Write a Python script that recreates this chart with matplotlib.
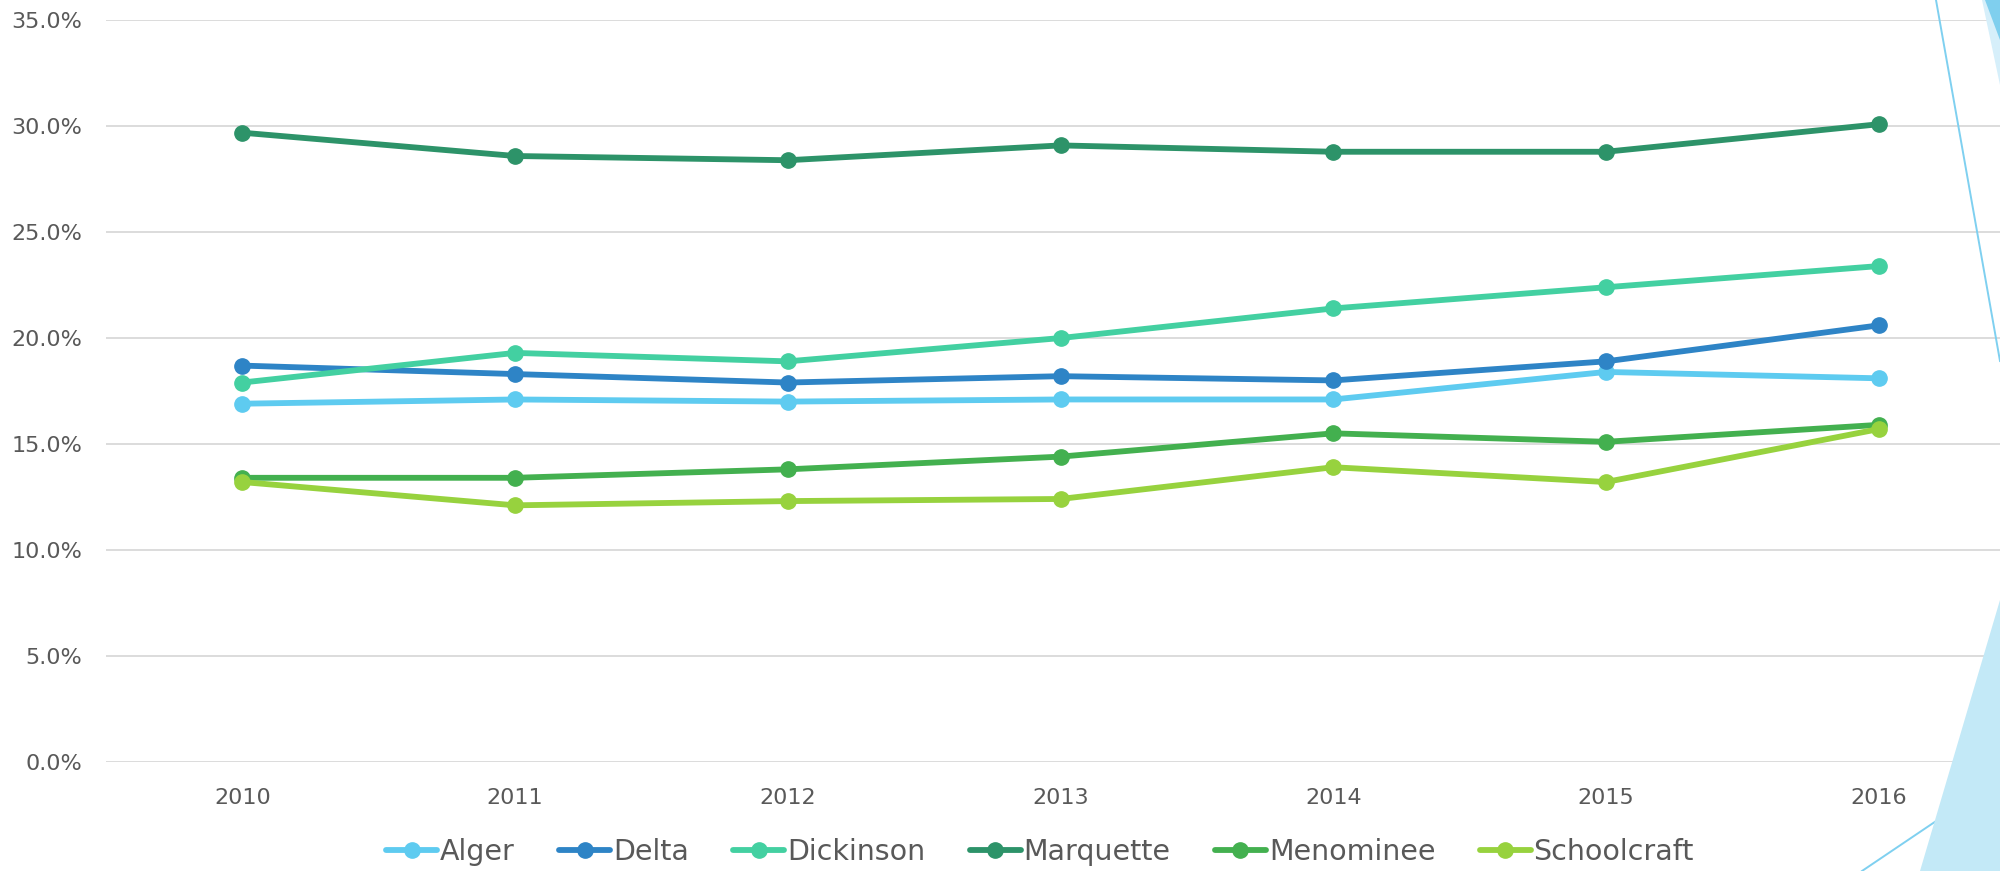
import matplotlib
matplotlib.use("Agg")
import matplotlib.pyplot as plt
from matplotlib.patches import Polygon
from matplotlib.lines import Line2D
from matplotlib.ticker import FuncFormatter

# data (percent)
years = ["2010", "2011", "2012", "2013", "2014", "2015", "2016"]
counties = ["Alger", "Delta", "Dickinson", "Marquette", "Menominee", "Schoolcraft"]
alger = [16.9, 17.1, 17.0, 17.1, 17.1, 18.4, 18.1]
delta = [18.7, 18.3, 17.9, 18.2, 18.0, 18.9, 20.6]
dickinson = [17.9, 19.3, 18.9, 20.0, 21.4, 22.4, 23.4]
marquette = [29.7, 28.6, 28.4, 29.1, 28.8, 28.8, 30.1]
menominee = [13.4, 13.4, 13.8, 14.4, 15.5, 15.1, 15.9]
schoolcraft = [13.2, 12.1, 12.3, 12.4, 13.9, 13.2, 15.7]
colors = ["#5ECBF0", "#2E84C6", "#43D0A1", "#2D9369", "#43B04F", "#97D23E"]

series = [alger, delta, dickinson, marquette, menominee, schoolcraft]

fig = plt.figure(figsize=(20, 8.71), dpi=100)
W, H = 2000.0, 871.0


def fp(x, y):
    # pixel coords (top-left origin) -> figure fraction
    return (x / W, 1 - y / H)


# light blue decoration at the right edge
deco = [
    ([(1982, 0), (2000, 0), (2000, 85)], "#D6EFFA"),
    ([(1985, 0), (2000, 0), (2000, 40)], "#7FCFEE"),
    ([(2000, 600), (1920, 871), (2000, 871)], "#C3E9F7"),
]
for pts, c in deco:
    fig.patches.append(Polygon([fp(*p) for p in pts], closed=True, facecolor=c,
                               edgecolor="none", transform=fig.transFigure, zorder=0))
for (x0, y0), (x1, y1) in [((1936, 0), (2000, 361)), ((1862, 871), (2000, 778))]:
    fig.lines.append(Line2D([x0 / W, x1 / W], [1 - y0 / H, 1 - y1 / H], color="#7FD0F0",
                            lw=1.4, transform=fig.transFigure, zorder=0))

ax = fig.add_axes([106 / W, 109.5 / H, 1909 / W, 741 / H])
ax.patch.set_alpha(0)

x = list(range(len(years)))
for name, vals, c in zip(counties, series, colors):
    ax.plot(x, vals, color=c, lw=4.2, marker="o", markersize=11, label=name,
            solid_capstyle="round")

ax.set_xlim(-0.5, len(years) - 0.5)
ax.set_ylim(0, 35)
ax.set_yticks(range(0, 36, 5))
ax.yaxis.set_major_formatter(FuncFormatter(lambda v, p: "{:.1f}%".format(v)))
ax.set_xticks(x)
ax.set_xticklabels(years)
ax.grid(axis="y", color="#D9D9D9", lw=1.3)
ax.set_axisbelow(True)
for s in ax.spines.values():
    s.set_visible(False)
ax.tick_params(axis="both", length=0, labelsize=16, labelcolor="#595959")
ax.tick_params(axis="y", pad=17)
ax.tick_params(axis="x", pad=19)

fig.legend(loc="center", bbox_to_anchor=(0.52, 0.022), ncol=6, frameon=False,
           fontsize=20.5, labelcolor="#595959", handlelength=1.8, handletextpad=0.1,
           columnspacing=1.55)

fig.savefig("out.png", dpi=100)
